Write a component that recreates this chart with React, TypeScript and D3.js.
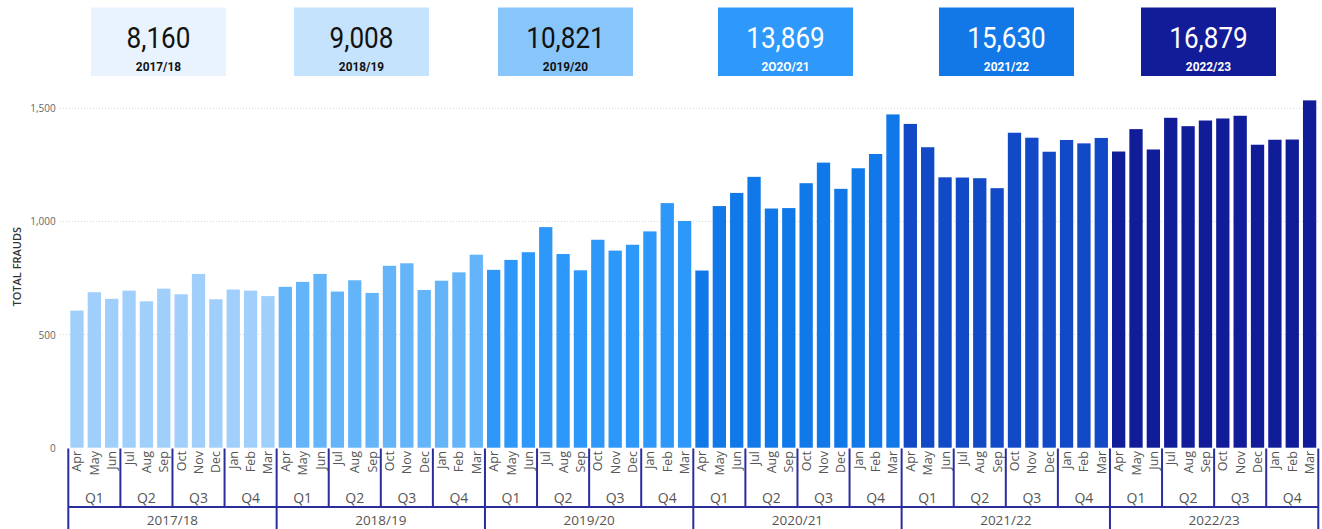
import React, { useEffect } from 'react';
import * as d3 from 'd3';

// ---------- data ----------
const fiscalYears = ['2017/18', '2018/19', '2019/20', '2020/21', '2021/22', '2022/23'];
const yearLabelsInBoxes = ['2017/18', '2018/19', '2019/20', '2O2O/21', '2021/22', '2022/23'];
const yearTotals = [8160, 9008, 10821, 13869, 15630, 16879];
const months = ['Apr', 'May', 'Jun', 'Jul', 'Aug', 'Sep', 'Oct', 'Nov', 'Dec', 'Jan', 'Feb', 'Mar'];
const quarters = ['Q1', 'Q2', 'Q3', 'Q4'];
const frauds1718 = [606, 687, 658, 694, 647, 703, 678, 768, 656, 699, 694, 670];
const frauds1819 = [711, 733, 768, 690, 740, 684, 804, 815, 697, 738, 775, 853];
const frauds1920 = [786, 830, 864, 975, 856, 784, 919, 871, 897, 956, 1081, 1002];
const frauds2021 = [783, 1068, 1126, 1197, 1057, 1059, 1169, 1260, 1144, 1235, 1298, 1473];
const frauds2122 = [1431, 1328, 1195, 1194, 1191, 1147, 1392, 1370, 1308, 1360, 1345, 1369];
const frauds2223 = [1309, 1408, 1318, 1458, 1421, 1446, 1455, 1467, 1339, 1361, 1362, 1535];
const yTicks = [0, 500, 1000, 1500];

// ---------- styles ----------
const barColors = ['#a0cffb', '#64b4fa', '#2e97fa', '#1078e8', '#1149c6', '#111d98'];
const boxColors = ['#e8f3fe', '#c6e3fd', '#88c5fb', '#2e99fb', '#1278e8', '#121c98'];
const boxText = ['#111', '#111', '#111', '#fff', '#fff', '#fff'];
const boxLefts = [91, 294, 498, 718, 939, 1141];
const axisColor = '#2a2e9c';
const uiFont = "'Segoe UI', 'Open Sans', sans-serif";

const W = 1322;
const H = 529;

export default function App() {
  useEffect(() => {
    document.body.style.margin = '0';
  }, []);

  const series = [frauds1718, frauds1819, frauds1920, frauds2021, frauds2122, frauds2223];
  const data = series.flatMap((vals, yi) => vals.map((v, mi) => ({ yi, mi, v, i: yi * 12 + mi })));

  const x0 = 68.3;
  const x1 = 1318.3;
  const x = d3
    .scaleBand<number>()
    .domain(d3.range(data.length))
    .range([x0, x1])
    .paddingInner(0.234)
    .paddingOuter(0.117);
  const step = x.step();
  const y = d3.scaleLinear().domain([0, 1500]).range([447.7, 108.3]);

  const axisTop = 448.5;
  const qLineY = 507;
  const boundary = (k: number) => x0 + k * step;

  const quarterCells = d3.range(fiscalYears.length * 4);

  return (
    <div style={{ position: 'absolute', left: 0, top: 0 }}>
      <svg width={W} height={H} style={{ display: 'block', background: '#fff' }}>
        {/* KPI boxes */}
        {fiscalYears.map((fy, i) => {
          const cx = boxLefts[i] + 67.5;
          return (
            <g key={fy}>
              <rect x={boxLefts[i]} y={7.5} width={135} height={68.5} fill={boxColors[i]} />
              <text
                transform={`translate(${cx},47.7) scale(0.9,1)`}
                textAnchor="middle"
                fontFamily="Roboto, sans-serif"
                fontSize={29}
                fill={boxText[i]}
              >
                {d3.format(',')(yearTotals[i])}
              </text>
              <text
                transform={`translate(${cx},71) scale(0.95,1)`}
                textAnchor="middle"
                fontFamily="Roboto, sans-serif"
                fontWeight="bold"
                fontSize={12.5}
                fill={boxText[i]}
              >
                {yearLabelsInBoxes[i]}
              </text>
            </g>
          );
        })}

        {/* gridlines */}
        {yTicks.filter((t) => t > 0).map((t) => (
          <line
            key={t}
            x1={60}
            x2={x1}
            y1={y(t)}
            y2={y(t)}
            stroke="#d8d8d8"
            strokeWidth={1}
            strokeDasharray="1,2"
          />
        ))}

        {/* y ticks */}
        {yTicks.map((t) => (
          <text
            key={t}
            x={55.7}
            y={y(t)}
            textAnchor="end"
            dominantBaseline="central"
            fontFamily={uiFont}
            fontSize={10}
            fill="#666"
          >
            {d3.format(',')(t)}
          </text>
        ))}
        <text
          transform={`translate(16,266.7) rotate(-90)`}
          textAnchor="middle"
          dominantBaseline="central"
          fontFamily={uiFont}
          fontSize={11}
          fontWeight={600}
          fill="#333"
        >
          TOTAL FRAUDS
        </text>

        {/* bars */}
        {data.map((d) => (
          <rect
            key={d.i}
            x={x(d.i)}
            y={y(d.v)}
            width={x.bandwidth()}
            height={y(0) - y(d.v)}
            fill={barColors[d.yi]}
          />
        ))}

        {/* month labels */}
        {data.map((d) => (
          <text
            key={'m' + d.i}
            transform={`translate(${(x(d.i) as number) + x.bandwidth() / 2},451) rotate(-90)`}
            textAnchor="end"
            dominantBaseline="central"
            fontFamily={uiFont}
            fontSize={12.5}
            fill="#555"
          >
            {months[d.mi]}
          </text>
        ))}

        {/* quarter labels */}
        {quarterCells.map((q) => (
          <text
            key={'q' + q}
            x={boundary(q * 3) + (step * 3) / 2}
            y={503}
            textAnchor="middle"
            fontFamily={uiFont}
            fontSize={14}
            fill="#555"
          >
            {quarters[q % 4]}
          </text>
        ))}

        {/* year labels */}
        {fiscalYears.map((fy, i) => (
          <text
            key={'y' + fy}
            x={boundary(i * 12) + (step * 12) / 2}
            y={525}
            textAnchor="middle"
            fontFamily={uiFont}
            fontSize={13.5}
            fill="#555"
          >
            {fy}
          </text>
        ))}

        {/* hierarchy lines */}
        {quarterCells
          .filter((q) => q % 4 !== 0)
          .map((q) => (
            <line
              key={'ql' + q}
              x1={boundary(q * 3)}
              x2={boundary(q * 3)}
              y1={axisTop}
              y2={qLineY}
              stroke={axisColor}
              strokeWidth={2}
            />
          ))}
        {d3.range(fiscalYears.length + 1).map((k) => (
          <line
            key={'yl' + k}
            x1={boundary(k * 12)}
            x2={boundary(k * 12)}
            y1={axisTop}
            y2={H}
            stroke={axisColor}
            strokeWidth={2}
          />
        ))}
        <line x1={x0} x2={x1} y1={qLineY} y2={qLineY} stroke={axisColor} strokeWidth={2} />
      </svg>
    </div>
  );
}
